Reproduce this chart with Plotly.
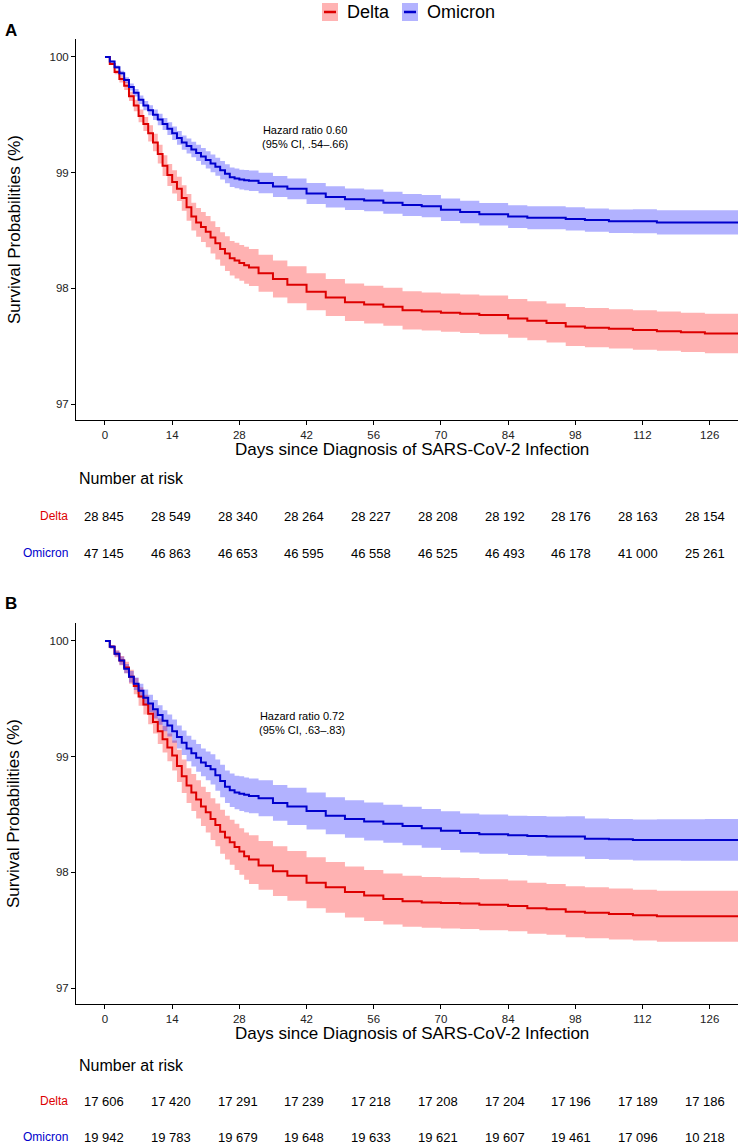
import plotly.graph_objects as go

W, H = 738, 1148

# ---------------- data ----------------
days = list(range(0, 31)) + [32, 35, 38, 42, 46, 50, 54, 58, 62, 66, 70, 74, 78, 84, 88,
                             92, 96, 100, 105, 110, 115, 120, 125, 132]

# Panel A
a_delta = [100, 99.94, 99.87, 99.81, 99.75, 99.66, 99.58, 99.49, 99.42, 99.34,
           99.26, 99.16, 99.06, 98.98, 98.92, 98.86, 98.78, 98.70, 98.62, 98.57,
           98.53, 98.49, 98.44, 98.39, 98.34, 98.30, 98.26, 98.24, 98.22, 98.20, 98.18,
           98.13, 98.08, 98.03, 97.97, 97.92, 97.88, 97.86, 97.84, 97.81, 97.80,
           97.79, 97.78, 97.77, 97.74, 97.72, 97.70, 97.67, 97.66, 97.65, 97.64,
           97.63, 97.62, 97.61, 97.60]
a_delta_ci = [0, 0.01, 0.02, 0.03, 0.035, 0.04, 0.05, 0.055, 0.06, 0.07,
              0.075, 0.08, 0.09, 0.095, 0.10, 0.105, 0.11, 0.115, 0.12, 0.125,
              0.13, 0.135, 0.14, 0.14, 0.145, 0.15, 0.15, 0.155, 0.155, 0.16, 0.16,
              0.16, 0.16, 0.16, 0.16, 0.16, 0.162, 0.163, 0.164, 0.165, 0.165,
              0.166, 0.166, 0.167, 0.167, 0.168, 0.168, 0.169, 0.169, 0.17, 0.17,
              0.17, 0.17, 0.17, 0.17]
a_omicron = [100, 99.96, 99.91, 99.86, 99.80, 99.74, 99.69, 99.63, 99.58, 99.54,
             99.50, 99.46, 99.42, 99.38, 99.34, 99.30, 99.26, 99.23, 99.20, 99.17,
             99.14, 99.11, 99.08, 99.05, 99.02, 98.99, 98.96, 98.95, 98.94, 98.935, 98.93,
             98.91, 98.88, 98.86, 98.82, 98.79, 98.77, 98.76, 98.74, 98.72, 98.71,
             98.68, 98.66, 98.64, 98.62, 98.61, 98.61, 98.60, 98.59, 98.58, 98.58,
             98.57, 98.57, 98.57, 98.57]
a_omicron_ci = [0, 0.01, 0.015, 0.02, 0.025, 0.03, 0.033, 0.036, 0.04, 0.043,
                0.046, 0.05, 0.052, 0.055, 0.058, 0.06, 0.062, 0.065, 0.067, 0.07,
                0.072, 0.074, 0.076, 0.078, 0.08, 0.082, 0.084, 0.085, 0.086, 0.087, 0.088,
                0.089, 0.09, 0.09, 0.091, 0.092, 0.093, 0.094, 0.095, 0.095, 0.096,
                0.097, 0.097, 0.098, 0.099, 0.1, 0.1, 0.1, 0.101, 0.102, 0.103,
                0.104, 0.104, 0.105, 0.105]

# Panel B
b_delta = [100, 99.95, 99.89, 99.83, 99.77, 99.69, 99.61, 99.52, 99.45, 99.37,
           99.30, 99.22, 99.15, 99.08, 99.01, 98.92, 98.83, 98.75, 98.69, 98.63,
           98.57, 98.52, 98.46, 98.41, 98.35, 98.30, 98.26, 98.22, 98.18, 98.14, 98.11,
           98.06, 98.01, 97.97, 97.91, 97.87, 97.83, 97.80, 97.77, 97.75, 97.74,
           97.735, 97.73, 97.72, 97.71, 97.69, 97.68, 97.66, 97.65, 97.64, 97.63,
           97.62, 97.62, 97.62, 97.62]
b_delta_ci = [0, 0.015, 0.03, 0.04, 0.05, 0.06, 0.07, 0.08, 0.085, 0.09,
              0.10, 0.11, 0.115, 0.12, 0.13, 0.14, 0.145, 0.15, 0.16, 0.165,
              0.17, 0.175, 0.18, 0.185, 0.19, 0.19, 0.195, 0.2, 0.2, 0.205, 0.21,
              0.21, 0.215, 0.215, 0.22, 0.22, 0.22, 0.22, 0.22, 0.22, 0.22,
              0.22, 0.22, 0.22, 0.22, 0.22, 0.22, 0.22, 0.22, 0.22, 0.22,
              0.22, 0.22, 0.22, 0.22]
b_omicron = [100, 99.95, 99.89, 99.83, 99.76, 99.69, 99.63, 99.57, 99.51, 99.46,
             99.41, 99.36, 99.31, 99.27, 99.22, 99.17, 99.12, 99.07, 99.03, 98.99,
             98.95, 98.92, 98.89, 98.84, 98.79, 98.74, 98.71, 98.69, 98.68, 98.67, 98.66,
             98.64, 98.60, 98.57, 98.53, 98.49, 98.46, 98.44, 98.42, 98.40, 98.38,
             98.36, 98.34, 98.33, 98.32, 98.315, 98.31, 98.31, 98.29, 98.285, 98.28,
             98.28, 98.28, 98.28, 98.28]
b_omicron_ci = [0, 0.015, 0.025, 0.035, 0.04, 0.05, 0.055, 0.06, 0.07, 0.075,
                0.08, 0.085, 0.09, 0.095, 0.1, 0.1, 0.105, 0.11, 0.115, 0.12,
                0.12, 0.125, 0.13, 0.135, 0.14, 0.14, 0.145, 0.145, 0.15, 0.15, 0.15,
                0.155, 0.155, 0.16, 0.16, 0.16, 0.162, 0.164, 0.165, 0.166, 0.167,
                0.168, 0.169, 0.17, 0.17, 0.172, 0.173, 0.174, 0.175, 0.176, 0.177,
                0.178, 0.179, 0.18, 0.18]

risk_times = [0, 14, 28, 42, 56, 70, 84, 98, 112, 126]
a_risk_delta = ["28 845", "28 549", "28 340", "28 264", "28 227", "28 208", "28 192", "28 176", "28 163", "28 154"]
a_risk_omicron = ["47 145", "46 863", "46 653", "46 595", "46 558", "46 525", "46 493", "46 178", "41 000", "25 261"]
b_risk_delta = ["17 606", "17 420", "17 291", "17 239", "17 218", "17 208", "17 204", "17 196", "17 189", "17 186"]
b_risk_omicron = ["19 942", "19 783", "19 679", "19 648", "19 633", "19 621", "19 607", "19 461", "17 096", "10 218"]

hr_text_a = "Hazard ratio 0.60<br>(95% CI, .54\u2013.66)"
hr_text_b = "Hazard ratio 0.72<br>(95% CI, .63\u2013.83)"

y_ticks = [97, 98, 99, 100]
x_ticks = [0, 14, 28, 42, 56, 70, 84, 98, 112, 126]

# ---------------- styling ----------------
FONT = "Liberation Sans, Arial, sans-serif"
RED, BLUE = "#DD0000", "#0000CC"
RED_BAND, BLUE_BAND = "rgba(255,0,0,0.30)", "rgba(0,0,255,0.30)"

x_range = [-6.04, 131.9]
y_range = [96.862, 100.155]


def py(pix):
    return 1 - pix / H


def px(pix):
    return pix / W


# linear scale for the number-at-risk table (columns slightly tighter than the plot ticks)
TABLE_X0, TABLE_PX_PER_DAY = 104.0, 4.77


def table_x(day):
    return px(TABLE_X0 + day * TABLE_PX_PER_DAY)


fig = go.Figure()


def add_bands(xa, ya, series):
    for vals, ci, band in series:
        up = [v + c for v, c in zip(vals, ci)]
        lo = [v - c for v, c in zip(vals, ci)]
        fig.add_trace(go.Scatter(x=days, y=up, mode="lines", line=dict(width=0, shape="hv"),
                                 hoverinfo="skip", showlegend=False, xaxis=xa, yaxis=ya))
        fig.add_trace(go.Scatter(x=days, y=lo, mode="lines", line=dict(width=0, shape="hv"),
                                 fill="tonexty", fillcolor=band, hoverinfo="skip",
                                 showlegend=False, xaxis=xa, yaxis=ya))


def add_lines(xa, ya, series):
    for vals, col, name in series:
        fig.add_trace(go.Scatter(x=days, y=vals, mode="lines",
                                 line=dict(color=col, width=2, shape="hv"),
                                 name=name, showlegend=False, xaxis=xa, yaxis=ya))


add_bands("x", "y", [(a_delta, a_delta_ci, RED_BAND), (a_omicron, a_omicron_ci, BLUE_BAND)])
add_lines("x", "y", [(a_delta, RED, "Delta"), (a_omicron, BLUE, "Omicron")])
add_bands("x2", "y2", [(b_delta, b_delta_ci, RED_BAND), (b_omicron, b_omicron_ci, BLUE_BAND)])
add_lines("x2", "y2", [(b_delta, RED, "Delta"), (b_omicron, BLUE, "Omicron")])

axis_common = dict(showline=True, linecolor="black", linewidth=1, ticks="outside",
                   ticklen=4, tickcolor="black", showgrid=False, zeroline=False,
                   automargin=False,
                   tickfont=dict(family=FONT, size=11.5, color="#222"))

fig.update_layout(
    template="none",
    width=W, height=H, margin=dict(l=0, r=0, t=0, b=0, pad=0, autoexpand=False),
    paper_bgcolor="white", plot_bgcolor="white", showlegend=False,
    font=dict(family=FONT, color="black"),
    xaxis=dict(domain=[px(76), 1.0], range=x_range, tickvals=x_ticks, anchor="y", **axis_common),
    yaxis=dict(domain=[py(420), py(39)], range=y_range, tickvals=y_ticks, anchor="x", **axis_common),
    xaxis2=dict(domain=[px(76), 1.0], range=x_range, tickvals=x_ticks, anchor="y2", **axis_common),
    yaxis2=dict(domain=[py(1004), py(623)], range=y_range, tickvals=y_ticks, anchor="x2", **axis_common),
)

ann = []


def note(text, x, y, xanchor="center", size=12, color="black", **kw):
    ann.append(dict(text=text, x=x, y=y, xref="paper", yref="paper", xanchor=xanchor,
                    yanchor="middle", showarrow=False,
                    font=dict(size=size, family=FONT, color=color), **kw))


# axis titles
for yt, yc in [(449, 230), (1033, 814)]:
    note("Days since Diagnosis of SARS-CoV-2 Infection", px(412), py(yt), size=17)
    note("Survival Probabilities (%)", px(14), py(yc), size=17, textangle=-90)

# panel letters
note("<b>A</b>", px(3), py(30), xanchor="left", size=17)
note("<b>B</b>", px(3), py(603), xanchor="left", size=17)

# hazard ratio text
note(hr_text_a, px(305), py(137), size=11, align="center")
note(hr_text_b, px(302), py(723), size=11, align="center")

# risk tables
for yhead, yd, yo, rd, ro in [(479, 516, 553, a_risk_delta, a_risk_omicron),
                              (1065, 1101, 1137, b_risk_delta, b_risk_omicron)]:
    note("Number at risk", px(77), py(yhead), xanchor="left", size=16)
    note("Delta", px(70), py(yd), xanchor="right", size=12, color=RED)
    note("Omicron", px(70), py(yo), xanchor="right", size=12, color=BLUE)
    for t, vd, vo in zip(risk_times, rd, ro):
        note(vd, table_x(t), py(yd), size=13)
        note(vo, table_x(t), py(yo), size=13)

# manual legend
shapes = []
for x0, band, col, label, tx in [(322, "#FFB3B3", RED, "Delta", 345), (402, "#B3B3FF", BLUE, "Omicron", 425)]:
    shapes.append(dict(type="rect", xref="paper", yref="paper", x0=px(x0), x1=px(x0 + 16),
                       y0=py(21), y1=py(3), fillcolor=band, line=dict(width=0)))
    shapes.append(dict(type="line", xref="paper", yref="paper", x0=px(x0 + 2), x1=px(x0 + 14),
                       y0=py(12), y1=py(12), line=dict(color=col, width=2.5)))
    note(label, px(tx), py(12), xanchor="left", size=18)

fig.update_layout(annotations=ann, shapes=shapes)
fig.write_html("out.html", config={"displayModeBar": False},
               post_script="document.body.style.margin='0';")
